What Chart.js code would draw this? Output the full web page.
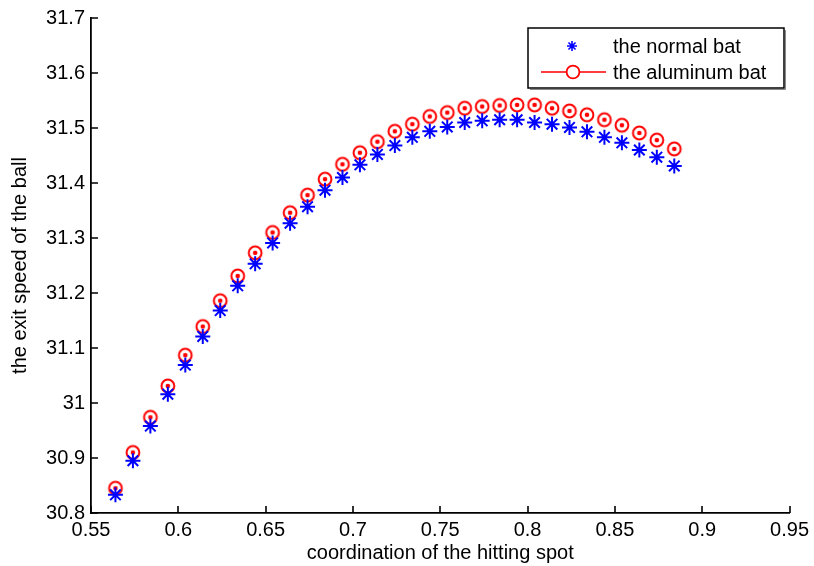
<!DOCTYPE html>
<html><head><meta charset="utf-8">
<script src="https://cdn.jsdelivr.net/npm/chart.js@4.4.0/dist/chart.umd.min.js"></script>
<style>html,body{margin:0;padding:0;background:#fff;}#wrap{width:814px;height:566px;}</style>
</head><body><div id="wrap"><canvas id="c" width="814" height="566"></canvas></div>
<script>
const xValues = [0.564,0.574,0.584,0.594,0.604,0.614,0.624,0.634,0.644,0.654,0.664,0.674,0.684,0.694,0.704,0.714,0.724,0.734,0.744,0.754,0.764,0.774,0.784,0.794,0.804,0.814,0.824,0.834,0.844,0.854,0.864,0.874,0.884];
const normalBat = [30.833,30.895,30.958,31.016,31.069,31.121,31.168,31.213,31.253,31.291,31.327,31.357,31.387,31.410,31.433,31.452,31.468,31.483,31.494,31.502,31.510,31.513,31.515,31.515,31.510,31.507,31.501,31.493,31.483,31.473,31.460,31.447,31.431];
const aluminumBat = [30.845,30.910,30.974,31.031,31.087,31.139,31.186,31.231,31.273,31.310,31.346,31.378,31.407,31.434,31.455,31.475,31.494,31.507,31.521,31.528,31.536,31.539,31.541,31.542,31.542,31.536,31.531,31.524,31.515,31.505,31.491,31.478,31.462];
const xTicks = [0.55,0.6,0.65,0.7,0.75,0.8,0.85,0.9,0.95];
const yTicks = [30.8,30.9,31,31.1,31.2,31.3,31.4,31.5,31.6,31.7];
const seriesLabels = ['the normal bat','the aluminum bat'];
const xTitle = 'coordination of the hitting spot';
const yTitle = 'the exit speed of the ball';

const FONT = {family:"'Liberation Sans', Arial, sans-serif", size:20};
const BLUE = '#0000ff', RED = '#ff0000';
const fmt = v => String(+Number(v).toFixed(3));

function circleDot(){
  const c = document.createElement('canvas'); c.width = 18; c.height = 18;
  const g = c.getContext('2d');
  g.strokeStyle = RED; g.lineWidth = 2;
  g.beginPath(); g.arc(9,9,6.4,0,Math.PI*2); g.stroke();
  g.fillStyle = RED; g.beginPath(); g.arc(9,9,2.3,0,Math.PI*2); g.fill();
  return c;
}
const circMarker = circleDot();

const tickPlugin = {
  id:'inTicks',
  afterDraw(chart){
    const ctx = chart.ctx, ca = chart.chartArea, xs = chart.scales.x, ys = chart.scales.y;
    ctx.save(); ctx.strokeStyle = '#000'; ctx.lineWidth = 1.6;
    ctx.beginPath();
    yTicks.forEach(v=>{const y = Math.round(ys.getPixelForValue(v)); ctx.moveTo(ca.left,y); ctx.lineTo(ca.left+7,y);});
    xTicks.forEach(v=>{const x = Math.round(xs.getPixelForValue(v)); ctx.moveTo(x,ca.bottom); ctx.lineTo(x,ca.bottom-7);});
    ctx.stroke();
    const L = 528, T = 28, R = 784, B = 88;
    ctx.fillStyle = '#fff'; ctx.fillRect(L,T,R-L,B-T);
    ctx.lineWidth = 1.5; ctx.strokeStyle = '#000';
    ctx.strokeRect(L,T,R-L,B-T);
    ctx.lineWidth = 1; ctx.strokeStyle = '#888';
    ctx.beginPath(); ctx.moveTo(L+2,B+1.5); ctx.lineTo(R+1.5,B+1.5); ctx.lineTo(R+1.5,T+2); ctx.stroke();
    const sx = 572, sy = 46, r = 5;
    ctx.strokeStyle = BLUE; ctx.lineWidth = 1.6; ctx.beginPath();
    ctx.moveTo(sx-r,sy); ctx.lineTo(sx+r,sy); ctx.moveTo(sx,sy-r); ctx.lineTo(sx,sy+r);
    const d = r*Math.SQRT1_2;
    ctx.moveTo(sx-d,sy-d); ctx.lineTo(sx+d,sy+d); ctx.moveTo(sx-d,sy+d); ctx.lineTo(sx+d,sy-d);
    ctx.stroke();
    const ly = 72;
    ctx.strokeStyle = RED; ctx.lineWidth = 1.5; ctx.beginPath();
    ctx.moveTo(541,ly); ctx.lineTo(566.5,ly); ctx.moveTo(579.5,ly); ctx.lineTo(606,ly); ctx.stroke();
    ctx.lineWidth = 1.8; ctx.beginPath(); ctx.arc(573,ly,6.4,0,Math.PI*2); ctx.stroke();
    ctx.fillStyle = '#000'; ctx.font = FONT.size+'px '+FONT.family; ctx.textBaseline = 'middle'; ctx.textAlign='left';
    ctx.fillText(seriesLabels[0], 613, 47);
    ctx.fillText(seriesLabels[1], 613, 73);
    ctx.restore();
  }
};

new Chart(document.getElementById('c'), {
  type:'scatter',
  data:{datasets:[
    {label:seriesLabels[0], data:xValues.map((x,i)=>({x, y:normalBat[i]})), pointStyle:'star', pointRadius:7.5, pointBorderWidth:2, borderColor:BLUE, backgroundColor:BLUE, pointHoverRadius:7.5},
    {label:seriesLabels[1], data:xValues.map((x,i)=>({x, y:aluminumBat[i]})), pointStyle:circMarker, pointRadius:9, borderColor:RED, backgroundColor:RED}
  ]},
  options:{
    responsive:false, animation:false, devicePixelRatio:1,
    layout:{padding:{left:0,right:22,top:18,bottom:0}},
    plugins:{legend:{display:false}, tooltip:{enabled:false}},
    scales:{
      x:{type:'linear', min:0.55, max:0.95,
        afterBuildTicks:s=>{s.ticks = xTicks.map(v=>({value:v}));},
        afterFit:s=>{s.height = 53;},
        ticks:{callback:v=>fmt(v), font:FONT, color:'#000', padding:5, maxRotation:0, autoSkip:false},
        grid:{display:false, drawTicks:false},
        border:{display:true, color:'#000', width:1.8},
        title:{display:true, text:xTitle, font:FONT, color:'#000', padding:{top:0,bottom:1}}
      },
      y:{type:'linear', min:30.8, max:31.7,
        afterBuildTicks:s=>{s.ticks = yTicks.map(v=>({value:v}));},
        afterFit:s=>{s.width = 91;},
        ticks:{callback:v=>fmt(v), font:FONT, color:'#000', padding:6, autoSkip:false},
        grid:{display:false, drawTicks:false},
        border:{display:true, color:'#000', width:1.8},
        title:{display:true, text:yTitle, font:FONT, color:'#000', padding:{top:8,bottom:0}}
      }
    }
  },
  plugins:[tickPlugin]
});
</script></body></html>
